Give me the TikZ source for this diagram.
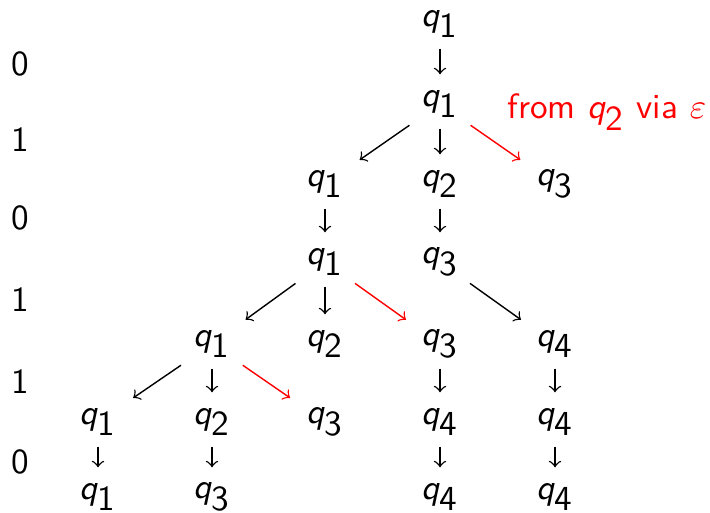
\documentclass[tikz,border=0pt]{standalone}
\usetikzlibrary{positioning}
\newcommand{\qs}[1]{$\textsf{\itshape q}_{\textsf{#1}}$}
\begin{document}
\begin{tikzpicture}[x=0.01cm, y=-0.01cm, font=\sffamily,
    st/.style={minimum width=0.56cm, minimum height=0.32cm, inner sep=0pt},
    tr/.style={->, shorten >=0.13cm, shorten <=0.08cm},
    eps/.style={tr, red}]
      \useasboundingbox (0,0) rectangle (710,513);
      % input symbols
      \foreach \d/\y [count=\i] in {0/64,1/140,0/218,1/300,1/382,0/462}
        \node (in\i) at (20,\y) {\d};
      % states, row by row
      \node[st] (r0c4) at (440,24) {\qs{1}};
      \node[st] (r1c4) at (440,104) {\qs{1}};
      \node[st] (r2c3) at (325,184) {\qs{1}};
      \node[st] (r2c4) at (440,184) {\qs{2}};
      \node[st] (r2c5) at (555,184) {\qs{3}};
      \node[st] (r3c3) at (325,262) {\qs{1}};
      \node[st] (r3c4) at (440,262) {\qs{3}};
      \node[st] (r4c2) at (212,344) {\qs{1}};
      \node[st] (r4c3) at (325,344) {\qs{2}};
      \node[st] (r4c4) at (440,344) {\qs{3}};
      \node[st] (r4c5) at (555,344) {\qs{4}};
      \node[st] (r5c1) at (98,422) {\qs{1}};
      \node[st] (r5c2) at (212,422) {\qs{2}};
      \node[st] (r5c3) at (325,422) {\qs{3}};
      \node[st] (r5c4) at (440,422) {\qs{4}};
      \node[st] (r5c5) at (555,422) {\qs{4}};
      \node[st] (r6c1) at (98,497) {\qs{1}};
      \node[st] (r6c2) at (212,497) {\qs{3}};
      \node[st] (r6c4) at (440,497) {\qs{4}};
      \node[st] (r6c5) at (555,497) {\qs{4}};
      % transitions
      \foreach \a/\b in {r0c4/r1c4, r1c4/r2c3, r1c4/r2c4, r2c3/r3c3, r2c4/r3c4,
          r3c3/r4c2, r3c3/r4c3, r3c4/r4c5, r4c2/r5c1, r4c2/r5c2, r4c4/r5c4,
          r4c5/r5c5, r5c1/r6c1, r5c2/r6c2, r5c4/r6c4, r5c5/r6c5}
        \draw[tr] (\a) -- (\b);
      % epsilon moves
      \foreach \a/\b in {r1c4/r2c5, r3c3/r4c4, r4c2/r5c3}
        \draw[eps] (\a) -- (\b);
      \node[red, anchor=east, inner sep=0pt] (note) at (707,112) {from \qs{2} via $\varepsilon$};
\end{tikzpicture}
\end{document}
